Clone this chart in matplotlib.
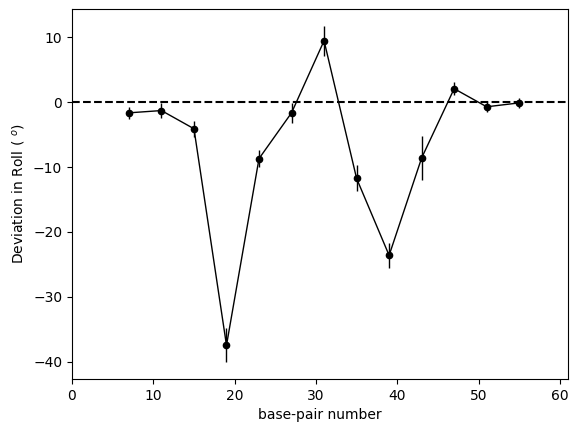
import numpy as np
import matplotlib
matplotlib.use('Agg')
import matplotlib.pyplot as plt

# base-pair positions and roll deviations
bp = [7, 11, 15, 19, 23, 27, 31, 35, 39, 43, 47, 51, 55]
roll_dev = [-1.65, -1.3, -4.1, -37.45, -8.7, -1.65, 9.45, -11.75, -23.6, -8.6, 2.07, -0.72, -0.12]
roll_err = [0.9, 1.2, 1.2, 2.6, 1.3, 1.5, 2.3, 2.0, 1.95, 3.4, 1.05, 0.8, 0.8]

fig = plt.figure(figsize=(5.78, 4.32), dpi=100)
ax = fig.add_axes([72/578, 1 - 379/432, (568 - 72)/578, (379 - 9)/432])

ax.errorbar(bp, roll_dev, yerr=roll_err, fmt='ko-', ms=4.5, lw=1, elinewidth=1)
ax.axhline(y=0, color='k', linestyle='--', lw=1.5)
ax.set_xlim(0, 61)
ax.set_xlabel('base-pair number')
ax.set_ylabel(r'Deviation in Roll ( $^o$)')

plt.savefig('out.png', dpi=100)
